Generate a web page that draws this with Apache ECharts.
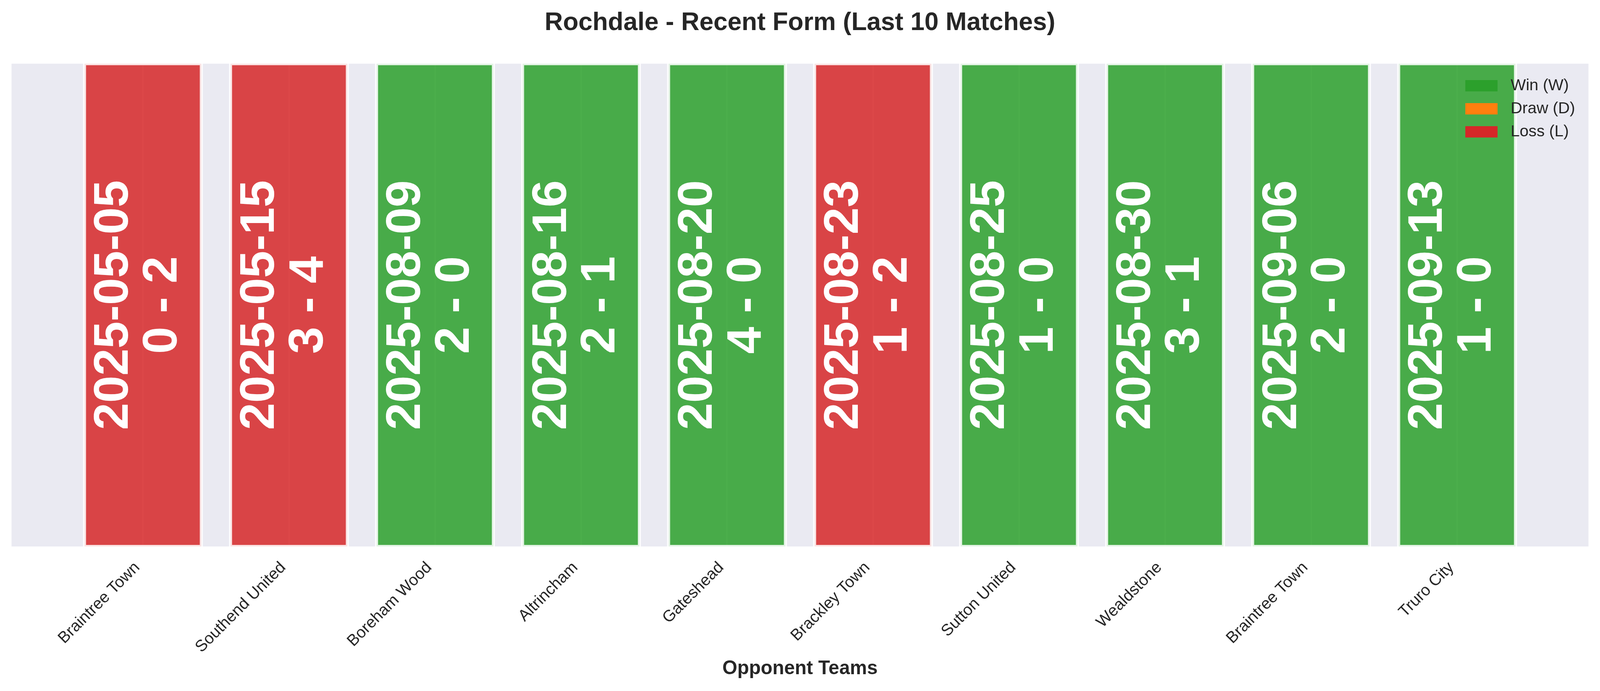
<!DOCTYPE html>
<html>
<head>
<meta charset="utf-8">
<title>Rochdale - Recent Form</title>
<script src="https://cdn.jsdelivr.net/npm/echarts@6/dist/echarts.min.js"></script>
<style>
    html, body { margin: 0; padding: 0; background: #ffffff; overflow: hidden; }
    #chart { width: 100vw; height: 100vh; }
</style>
</head>
<body>
<div id="chart"></div>
<script>
// last 10 matches, oldest first
var opponents = ['Braintree Town', 'Southend United', 'Boreham Wood', 'Altrincham', 'Gateshead',
    'Brackley Town', 'Sutton United', 'Wealdstone', 'Braintree Town', 'Truro City'];
var dates = ['2025-05-05', '2025-05-15', '2025-08-09', '2025-08-16', '2025-08-20',
    '2025-08-23', '2025-08-25', '2025-08-30', '2025-09-06', '2025-09-13'];
var scores = ['0 - 2', '3 - 4', '2 - 0', '2 - 1', '4 - 0', '1 - 2', '1 - 0', '3 - 1', '2 - 0', '1 - 0'];
var results = ['L', 'L', 'W', 'W', 'W', 'L', 'W', 'W', 'W', 'W'];
var barHeights = [1, 1, 1, 1, 1, 1, 1, 1, 1, 1];

var outcomes = [
    {code: 'W', name: 'Win (W)', color: '#2ca02c'},
    {code: 'D', name: 'Draw (D)', color: '#ff7f0e'},
    {code: 'L', name: 'Loss (L)', color: '#d62728'}
];

var textColor = '#262626';
var fontFamily = 'Liberation Sans, Arial, sans-serif';

// layout was measured on a 4170x1769 canvas, scale it to the real window
var el = document.getElementById('chart');
var sx = el.clientWidth / 4170;
var sy = el.clientHeight / 1769;
function px(v) { return v * sx; }
function py(v) { return v * sy; }

function renderBar(params, api) {
    var i = api.value(0);
    var h = api.value(1);
    var corner = api.coord([i - 0.4, h]);
    var size = api.size([0.8, h]);
    var mid = api.coord([i, h / 2]);
    return {
        type: 'group',
        children: [{
            type: 'rect',
            shape: {x: corner[0], y: corner[1], width: size[0], height: size[1]},
            style: {fill: api.visual('color'), stroke: '#ffffff', lineWidth: px(8), opacity: 0.85}
        }, {
            type: 'text',
            x: mid[0] - px(11),
            y: mid[1],
            rotation: Math.PI / 2,
            style: {
                text: dates[i] + '\n' + scores[i],
                fill: '#ffffff',
                font: 'bold ' + py(125) + 'px ' + fontFamily,
                lineHeight: px(127),
                align: 'center',
                verticalAlign: 'middle'
            }
        }]
    };
}

var seriesList = outcomes.map(function(o) {
    var data = [];
    results.forEach(function(r, i) {
        if (r === o.code) data.push([i, barHeights[i]]);
    });
    return {
        name: o.name,
        type: 'custom',
        renderItem: renderBar,
        itemStyle: {color: o.color},
        encode: {x: 0, y: 1},
        data: data
    };
});

var tickIdx = opponents.map(function(d, i) { return i; });

var myChart = echarts.init(el);
var option = {
    backgroundColor: '#ffffff',
    animation: false,
    title: {
        text: 'Rochdale - Recent Form (Last 10 Matches)',
        left: 'center',
        top: py(22),
        textStyle: {
            fontSize: px(66),
            fontWeight: 'bold',
            color: textColor,
            fontFamily: fontFamily
        }
    },
    legend: {
        orient: 'vertical',
        left: px(3819),
        top: py(199),
        padding: 0,
        itemWidth: px(84),
        itemHeight: py(29),
        itemGap: py(18),
        icon: 'rect',
        data: outcomes.map(function(o) { return o.name; }),
        textStyle: {
            fontSize: px(42),
            color: textColor,
            fontFamily: fontFamily,
            padding: [0, 0, 0, px(29)]
        }
    },
    grid: {
        left: px(30),
        right: px(30),
        top: py(163),
        bottom: py(370),
        show: true,
        backgroundColor: '#EAEAF2',
        borderWidth: 0
    },
    xAxis: {
        type: 'value',
        min: -0.9,
        max: 9.9,
        name: 'Opponent Teams',
        nameLocation: 'middle',
        nameGap: py(289),
        nameTextStyle: {
            fontSize: px(50),
            fontWeight: 'bold',
            color: textColor,
            fontFamily: fontFamily
        },
        axisLine: {show: false},
        axisTick: {show: false, customValues: tickIdx},
        axisLabel: {
            customValues: tickIdx,
            rotate: 45,
            margin: py(33),
            padding: [0, px(21), 0, 0],
            fontSize: px(42),
            color: textColor,
            fontFamily: fontFamily,
            formatter: function(v) { return opponents[v]; }
        },
        splitLine: {show: true, lineStyle: {color: '#ffffff', width: px(4)}}
    },
    yAxis: {
        type: 'value',
        min: 0,
        max: 1,
        show: false,
        splitLine: {show: false}
    },
    series: seriesList
};

myChart.setOption(option);
</script>
</body>
</html>
